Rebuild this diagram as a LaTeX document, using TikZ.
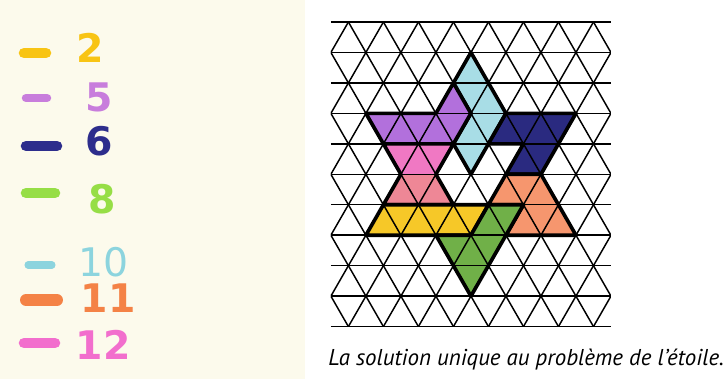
\documentclass[tikz,border=0pt]{standalone}
\usepackage{fontspec}
\setmainfont{PT Sans}
\newfontfamily\stiftfont{DejaVu Sans}

% Farben der Teile
\definecolor{papier}{RGB}{252,250,236}
\definecolor{hellblau}{RGB}{168,221,230}
\definecolor{lila}{RGB}{178,112,220}
\definecolor{dunkelblau}{RGB}{42,42,128}
\definecolor{rosa}{RGB}{240,120,195}
\definecolor{lachs}{RGB}{238,135,150}
\definecolor{apricot}{RGB}{246,150,110}
\definecolor{gelb}{RGB}{246,200,40}
\definecolor{gruen}{RGB}{112,176,72}
% Farben der Stifte (Legende)
\definecolor{stiftgelb}{RGB}{248,196,20}
\definecolor{stiftlila}{RGB}{200,125,220}
\definecolor{stiftblau}{RGB}{45,45,140}
\definecolor{stiftgruen}{RGB}{150,222,70}
\definecolor{stifttuerkis}{RGB}{140,212,222}
\definecolor{stiftorange}{RGB}{244,130,70}
\definecolor{stiftrosa}{RGB}{242,110,205}

\begin{document}
\begin{tikzpicture}[x=0.025cm,y=-0.025cm,
  gitter/.style={black,line width=1.05pt},
  teil/.style={draw=black,line width=2.6pt,line join=round},
  strich/.style={line width=#1,line cap=round},
  ziffer/.style={inner sep=0pt,font=\stiftfont\fontsize{28}{28}\selectfont\bfseries}]
%
% Papier: links gelblich, rechts weiss
\useasboundingbox (0,0) rectangle (728,379);
\fill[white] (0,0) rectangle (728,379);
\fill[papier] (0,0) rectangle (305,379);
%
% --- Legende: Stiftfarbe und Nummer ---
\draw[strich=7.5pt,stiftgelb] (24,53) -- (46,53);
\node[ziffer,text=stiftgelb] (n2) at (90,48) {2};
\draw[strich=6pt,stiftlila] (26,98) -- (47,98);
\node[ziffer,text=stiftlila] (n5) at (99,97) {5};
\draw[strich=7.5pt,stiftblau] (26,146) -- (57,146);
\node[ziffer,text=stiftblau] (n6) at (99,141) {6};
\draw[strich=7.5pt,stiftgruen] (26,193) -- (55,193);
\node[ziffer,text=stiftgruen] (n8) at (102,199) {8};
\draw[strich=5pt,stifttuerkis] (28,265) -- (52,265);
\node[ziffer,font=\stiftfont\fontsize{28}{28}\selectfont,text=stifttuerkis] (n10) at (104,262) {10};
\draw[strich=8.5pt,stiftorange] (26,300) -- (57,300);
\node[ziffer,text=stiftorange] (n11) at (108,298) {11};
\draw[strich=7.5pt,stiftrosa] (24,343) -- (55,343);
\node[ziffer,text=stiftrosa] (n12) at (103,345) {12};
%
% --- Stern im Dreiecksgitter ---
% Einheiten: x = halbe Seite, y = eine Zeile
\begin{scope}[xshift=8.7075cm,yshift=-0.55cm,x=0.4375cm,y=-0.76125cm]
  % Teile (Fuellung und dicker Rand)
  \filldraw[teil,fill=hellblau] (7,1) -- (9,3) -- (7,5) -- (6,4) -- (7,3) -- (6,2) -- cycle;
  \filldraw[teil,fill=lila] (6,2) -- (7,3) -- (6,4) -- (2,4) -- (1,3) -- (5,3) -- cycle;
  \filldraw[teil,fill=dunkelblau] (9,3) -- (13,3) -- (11,5) -- (9,5) -- (10,4) -- (8,4) -- cycle;
  \fill[rosa] (2,4) -- (6,4) -- (5,5) -- (3,5) -- cycle;
  \fill[lachs] (3,5) -- (5,5) -- (6,6) -- (2,6) -- cycle;
  \draw[teil] (2,4) -- (6,4) -- (5,5) -- (6,6) -- (2,6) -- (3,5) -- cycle;
  \filldraw[teil,fill=apricot] (9,5) -- (11,5) -- (13,7) -- (9,7) -- (10,6) -- (8,6) -- cycle;
  \filldraw[teil,fill=gelb] (2,6) -- (8,6) -- (7,7) -- (1,7) -- cycle;
  \filldraw[teil,fill=gruen] (8,6) -- (10,6) -- (7,9) -- (5,7) -- (7,7) -- cycle;
  % Dreiecksgitter
  \begin{scope}
    \clip (-1,-0.5) rectangle (15,10.5);
    \foreach \r in {0,...,10}
      \draw[gitter] (-1,\r) -- (15,\r);
    \foreach \u in {-10,-8,...,14}
      \draw[gitter] (\u,0) -- ++(10,10);
    \foreach \u in {0,2,...,24}
      \draw[gitter] (\u,0) -- ++(-10,10);
  \end{scope}
\end{scope}
%
% Bildunterschrift
\node[anchor=base west,inner sep=0pt,font=\itshape\fontsize{16.3}{16.3}\selectfont]
  (titel) at (328,365) {La solution unique au problème de l'étoile.};
\end{tikzpicture}
\end{document}
